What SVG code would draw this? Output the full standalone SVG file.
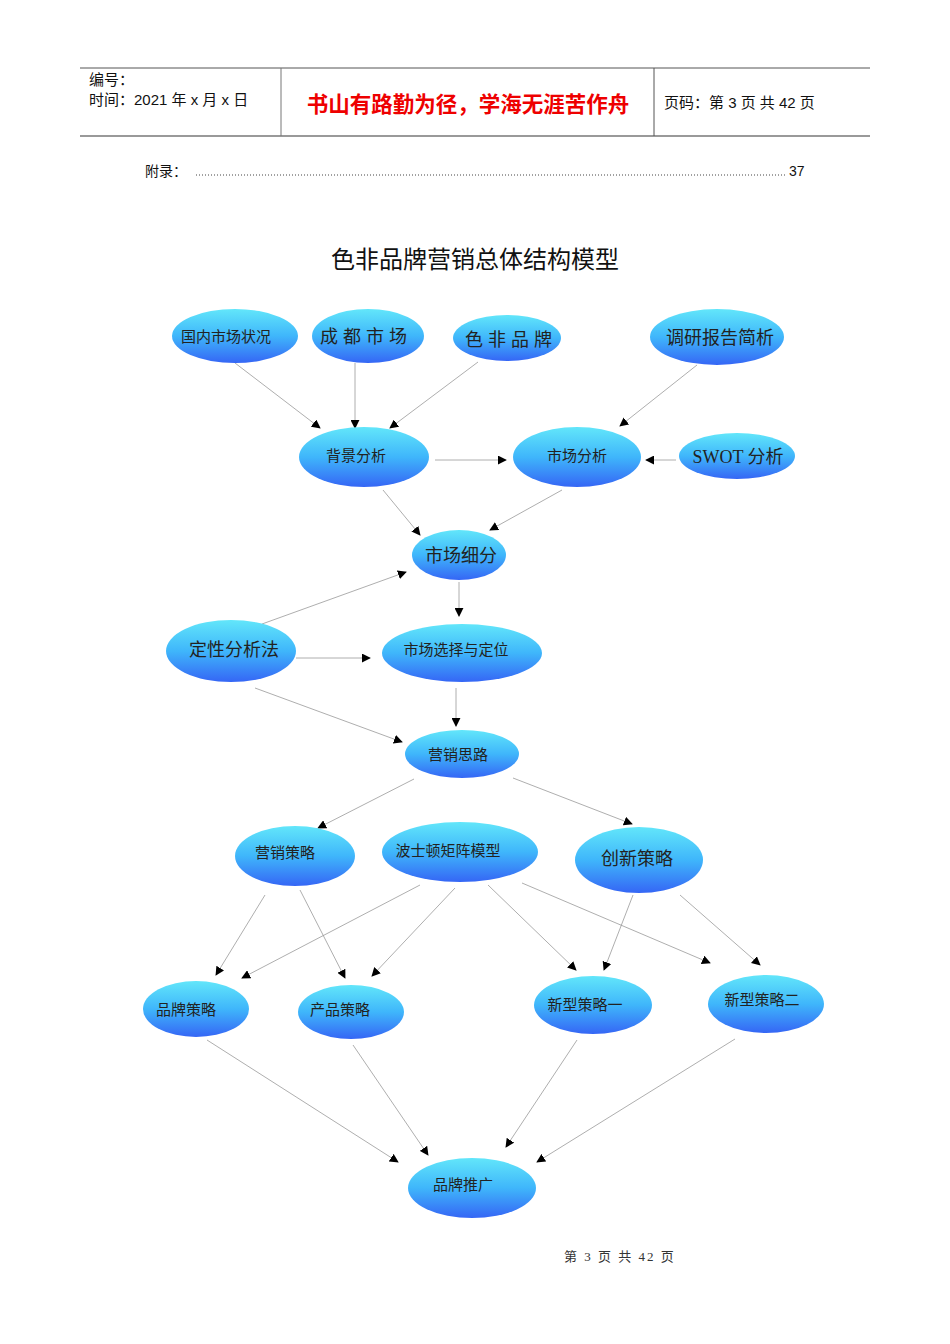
<svg xmlns="http://www.w3.org/2000/svg" width="950" height="1344" viewBox="0 0 950 1344">
<style>
.n{fill:url(#g)}
.t{font-family:"Liberation Serif","Noto Sans CJK SC",serif;fill:#222;text-anchor:middle}
.h{font-family:"Liberation Sans","Noto Sans CJK SC",sans-serif;fill:#111}
.c line{stroke:#999;stroke-width:0.8;marker-end:url(#a)}
</style>
<defs>
<linearGradient id="g" x1="0" y1="0" x2="0" y2="1"><stop offset="0" stop-color="#62e6fa"/><stop offset="0.5" stop-color="#3fb6fb"/><stop offset="1" stop-color="#3566f5"/></linearGradient>
<marker id="a" viewBox="0 0 10 10" refX="9" refY="5" markerWidth="9" markerHeight="9" markerUnits="userSpaceOnUse" orient="auto"><path d="M0,0L10,5L0,10z" fill="#000"/></marker>
</defs>
<rect width="950" height="1344" fill="#fff"/>
<g id="header">
<line x1="80" y1="68" x2="870" y2="68" stroke="#555" stroke-width="1"/>
<line x1="80" y1="136" x2="870" y2="136" stroke="#777" stroke-width="1.5"/>
<line x1="281" y1="68" x2="281" y2="136" stroke="#777"/>
<line x1="654" y1="68" x2="654" y2="136" stroke="#555"/>
<text class="h" x="89" y="85" font-size="15">编号：</text>
<text class="h" x="89" y="105" font-size="15">时间：2021 年 x 月 x 日</text>
<text x="468" y="112" font-size="21.5" fill="#e00" text-anchor="middle" font-family="Noto Sans CJK SC,sans-serif" font-weight="bold">书山有路勤为径，学海无涯苦作舟</text>
<text class="h" x="664" y="108" font-size="15">页码：第 3 页 共 42 页</text>
<text class="h" x="145" y="176" font-size="14" fill="#444">附录：</text>
<line x1="196" y1="175" x2="786" y2="175" stroke="#444" stroke-dasharray="1,2"/>
<text class="h" x="789" y="176" font-size="14" fill="#444">37</text>
<text x="475" y="268" font-size="24" text-anchor="middle" font-family="Noto Sans CJK SC,sans-serif" fill="#111">色非品牌营销总体结构模型</text>
<text x="620" y="1261" font-size="13" text-anchor="middle" letter-spacing="2" font-family="Liberation Serif,Noto Sans CJK SC,serif" fill="#333">第 3 页 共 42 页</text>
</g>
<g class="c" id="connectors">
<line x1="235" y1="363" x2="320" y2="428"/>
<line x1="355" y1="363" x2="355" y2="428"/>
<line x1="478" y1="362" x2="390" y2="428"/>
<line x1="697" y1="365" x2="620" y2="426"/>
<line x1="435" y1="460" x2="506" y2="460"/>
<line x1="676" y1="460" x2="646" y2="460"/>
<line x1="383" y1="490" x2="420" y2="535"/>
<line x1="562" y1="490" x2="490" y2="530"/>
<line x1="262" y1="624" x2="406" y2="572"/>
<line x1="459" y1="582" x2="459" y2="616"/>
<line x1="296" y1="658" x2="370" y2="658"/>
<line x1="255" y1="688" x2="402" y2="742"/>
<line x1="456" y1="688" x2="456" y2="726"/>
<line x1="414" y1="779" x2="318" y2="828"/>
<line x1="513" y1="778" x2="632" y2="824"/>
<line x1="265" y1="895" x2="216" y2="975"/>
<line x1="300" y1="890" x2="345" y2="978"/>
<line x1="420" y1="885" x2="242" y2="978"/>
<line x1="455" y1="888" x2="372" y2="976"/>
<line x1="488" y1="885" x2="576" y2="970"/>
<line x1="633" y1="895" x2="604" y2="970"/>
<line x1="522" y1="883" x2="710" y2="963"/>
<line x1="680" y1="895" x2="760" y2="965"/>
<line x1="207" y1="1040" x2="398" y2="1162"/>
<line x1="353" y1="1045" x2="428" y2="1155"/>
<line x1="577" y1="1040" x2="506" y2="1147"/>
<line x1="735" y1="1039" x2="537" y2="1162"/>
</g>
<g id="n1"><ellipse class="n" cx="235" cy="336" rx="63" ry="27"/><text class="t" x="226" y="342" font-size="15">国内市场状况</text></g>
<g id="n2"><ellipse class="n" cx="368" cy="336" rx="56" ry="27"/><text class="t" x="366" y="343" font-size="18" letter-spacing="5">成都市场</text></g>
<g id="n3"><ellipse class="n" cx="507" cy="338" rx="54" ry="23"/><text class="t" x="511" y="346" font-size="18" letter-spacing="5">色非品牌</text></g>
<g id="n4"><ellipse class="n" cx="717" cy="337" rx="67" ry="28"/><text class="t" x="720" y="344" font-size="18">调研报告简析</text></g>
<g id="n5"><ellipse class="n" cx="364" cy="457" rx="65" ry="30"/><text class="t" x="356" y="461" font-size="15">背景分析</text></g>
<g id="n6"><ellipse class="n" cx="577" cy="457" rx="64" ry="30"/><text class="t" x="577" y="461" font-size="15">市场分析</text></g>
<g id="n7"><ellipse class="n" cx="737" cy="456" rx="58" ry="23"/><text class="t" x="738" y="463" font-size="18">SWOT 分析</text></g>
<g id="n8"><ellipse class="n" cx="459" cy="555" rx="47" ry="25"/><text class="t" x="461" y="562" font-size="18">市场细分</text></g>
<g id="n9"><ellipse class="n" cx="231" cy="651" rx="65" ry="31"/><text class="t" x="234" y="656" font-size="18">定性分析法</text></g>
<g id="n10"><ellipse class="n" cx="462" cy="653" rx="80" ry="29"/><text class="t" x="456" y="655" font-size="15">市场选择与定位</text></g>
<g id="n11"><ellipse class="n" cx="462" cy="754" rx="57" ry="24"/><text class="t" x="458" y="760" font-size="15">营销思路</text></g>
<g id="n12"><ellipse class="n" cx="295" cy="856" rx="60" ry="30"/><text class="t" x="285" y="858" font-size="15">营销策略</text></g>
<g id="n13"><ellipse class="n" cx="460" cy="852" rx="78" ry="30"/><text class="t" x="448" y="856" font-size="15">波士顿矩阵模型</text></g>
<g id="n14"><ellipse class="n" cx="639" cy="860" rx="64" ry="33"/><text class="t" x="637" y="865" font-size="18">创新策略</text></g>
<g id="n15"><ellipse class="n" cx="196" cy="1009" rx="53" ry="28"/><text class="t" x="186" y="1015" font-size="15">品牌策略</text></g>
<g id="n16"><ellipse class="n" cx="351" cy="1012" rx="53" ry="27"/><text class="t" x="340" y="1015" font-size="15">产品策略</text></g>
<g id="n17"><ellipse class="n" cx="593" cy="1005" rx="59" ry="29"/><text class="t" x="585" y="1010" font-size="15">新型策略一</text></g>
<g id="n18"><ellipse class="n" cx="766" cy="1004" rx="58" ry="29"/><text class="t" x="762" y="1005" font-size="15">新型策略二</text></g>
<g id="n19"><ellipse class="n" cx="472" cy="1188" rx="64" ry="30"/><text class="t" x="463" y="1190" font-size="15">品牌推广</text></g>
</svg>
